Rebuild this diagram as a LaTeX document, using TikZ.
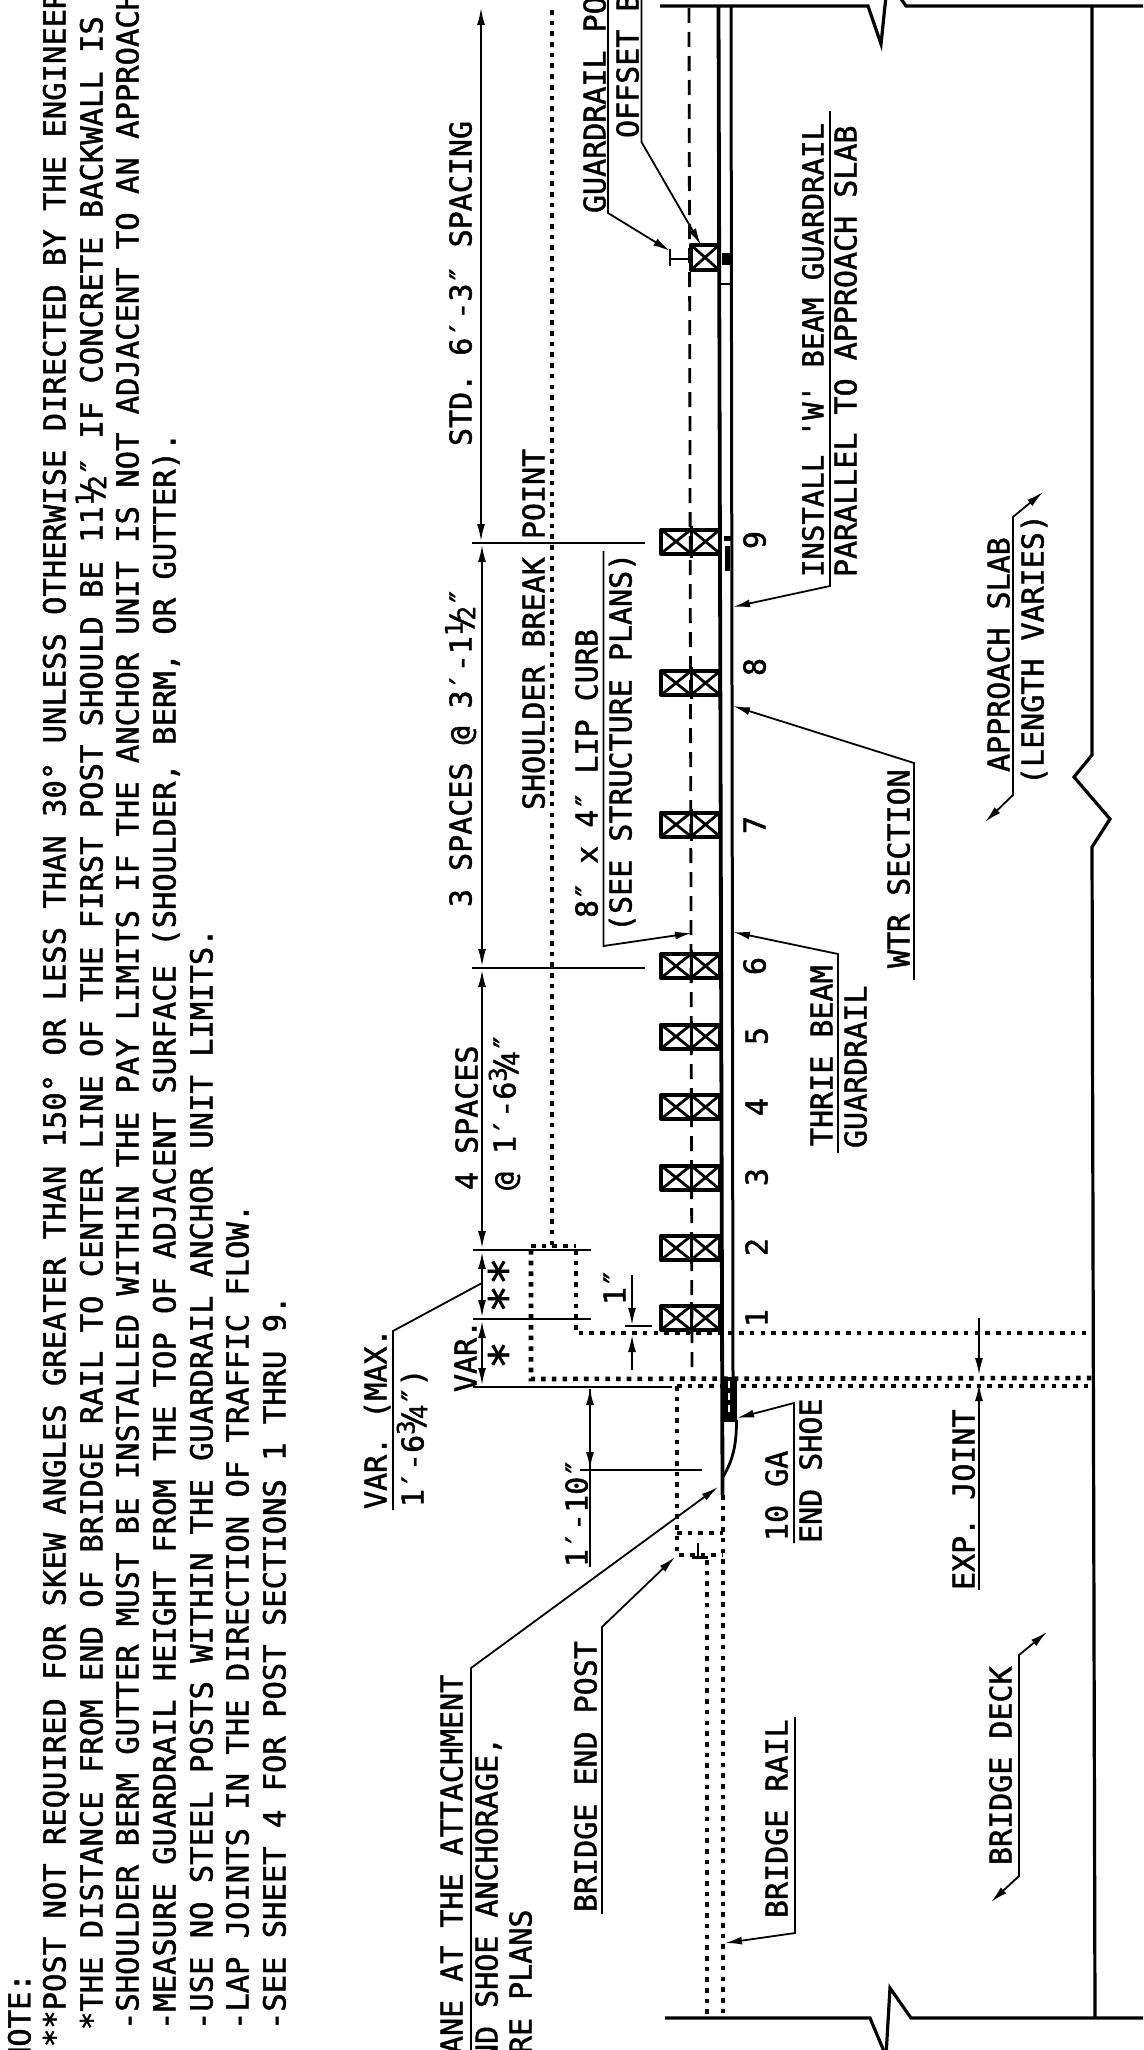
\documentclass[tikz,border=0pt]{standalone}
\usepackage{fontspec}
\usepackage{graphicx}
\usetikzlibrary{arrows.meta}
\newfontfamily\drafting{DejaVu Sans Mono}[FakeBold=1.5]
\newcommand\frc[2]{\raisebox{.3em}{\scalebox{.8}{#1}}\kern-.28em\scalebox{1}{/}\kern-.28em\raisebox{-.12em}{\scalebox{.8}{#2}}}
\tikzset{
  lbl/.style={rotate=90,anchor=west,inner sep=0pt,outer sep=0pt,text height=21pt,text depth=0pt,font=\drafting\fontsize{30}{30}\selectfont},
  nt/.style={lbl,font=\drafting\fontsize{30.5}{30}\selectfont},
  stars/.style={rotate=90,anchor=center,inner sep=0pt,font=\drafting\fontsize{46}{46}\selectfont},
  dim/.style={line width=1.8pt},
  leader/.style={line width=1.8pt},
  arr/.style={-{Latex[length=17pt,width=8pt]},line width=1.8pt},
  arrb/.style={{Latex[length=17pt,width=8pt]}-{Latex[length=17pt,width=8pt]},line width=1.8pt},
  thick line/.style={line width=3.2pt},
  dots/.style={line width=4.6pt,dash pattern=on 4.6pt off 6.1pt},
  cl/.style={line width=2.8pt,dash pattern=on 15pt off 9pt},
}
\newcommand\postbox[1]{%
  \draw[line width=4pt,line join=round] (661,#1-12) rectangle (720,#1+12);
  \draw[line width=2.8pt] (661,#1-12)--(691,#1+12) (661,#1+12)--(691,#1-12)
     (691,#1-12)--(720,#1+12) (691,#1+12)--(720,#1-12);
  \draw[line width=3pt] (691,#1-16)--(691,#1+16);
}
\begin{document}
\begin{tikzpicture}[x=1pt,y=-1pt]
\useasboundingbox (0,0) rectangle (1143,2050);
\clip (0,0) rectangle (1143,2050);
\fill[white] (0,0) rectangle (1143,2050);

% notes
\node[nt] (note0) at (20,2065) {NOTE:};
\node[nt] (note1) at (55,2047) {**POST NOT REQUIRED FOR SKEW ANGLES GREATER THAN 150° OR LESS THAN 30° UNLESS OTHERWISE DIRECTED BY THE ENGINEER};
\node[nt] (note2) at (92,2030) {*THE DISTANCE FROM END OF BRIDGE RAIL TO CENTER LINE OF THE FIRST POST SHOULD BE 11\frc{1}{2}″ IF CONCRETE BACKWALL IS};
\node[nt] (note3) at (128,2030) {-SHOULDER BERM GUTTER MUST BE INSTALLED WITHIN THE PAY LIMITS IF THE ANCHOR UNIT IS NOT ADJACENT TO AN APPROACH};
\node[nt] (note4) at (165,2030) {-MEASURE GUARDRAIL HEIGHT FROM THE TOP OF ADJACENT SURFACE (SHOULDER, BERM, OR GUTTER).};
\node[nt] (note5) at (202,2030) {-USE NO STEEL POSTS WITHIN THE GUARDRAIL ANCHOR UNIT LIMITS.};
\node[nt] (note6) at (238,2030) {-LAP JOINTS IN THE DIRECTION OF TRAFFIC FLOW.};
\node[nt] (note7) at (275,2030) {-SEE SHEET 4 FOR POST SECTIONS 1 THRU 9.};

% deck outline
\draw[thick line,line join=miter] (660,6)--(868,6)--(881,44)--(886,-4);
\draw[thick line] (899,-4)--(906,6)--(1143,6);
\draw[thick line] (665,2018)--(870,2018)--(886,2056);
\draw[thick line] (886,2056)--(890,1988)--(911,2018)--(1143,2018);
\draw[thick line] (1092,6)--(1092,755)--(1074,777)--(1110,819)--(1092,847)--(1095,2018);

% dotted lines
\draw[dots] (552,10)--(552,1246);
\draw[dots] (531,1246)--(576,1246);
\draw[dots] (531,1250)--(531,1379)--(1092,1378);
\draw[dots] (576,1250)--(576,1333)--(1092,1333);
\draw[dots] (677,1386)--(1092,1386);
\draw[dots] (677,1386)--(677,1555)--(723,1555);
\draw[dots] (677,1533)--(723,1533);
\draw[dots] (723,1495)--(723,2018);
\draw[dots] (707,1560)--(707,2018);
\draw[line width=2.6pt] (698,1543)--(698,1558);
\draw[line width=3pt] (692,1557)--(708,1557);

% centre line and rails
\draw[cl] (689,8)--(692,1380);
\draw[line width=3.8pt] (718.5,6)--(722.5,1495);
\draw[line width=3pt] (731,6)--(733,1378);

% posts
\foreach \p in {1318,1248,1177.5,1107,1036.5,966,824.5,683,541.5}{\postbox{\p}}
\draw[line width=4pt,line join=round] (691,245) rectangle (719,270);
\draw[line width=2.8pt] (691,245)--(719,270) (691,270)--(719,245);
\draw[line width=2.2pt] (670,259)--(691,259) (670,249)--(670,266);
\fill (722,253) rectangle (730,265);
\draw[line width=2.6pt] (719,284)--(731,284);
\fill (724,536) rectangle (731,541);
\fill (724.5,546) rectangle (730,571);

% end shoe
\fill (720.5,1377) rectangle (737,1422);
\draw[white,line width=1.4pt,dash pattern=on 7pt off 5pt] (729,1381)--(729,1414);
\draw[line width=2.8pt] (736.5,1420) .. controls (736.5,1445) and (733,1460) .. (723,1477);

% dimension line
\draw[arrb] (481,8)--(481,541);
\draw[arrb] (482,545)--(482,966);
\draw[arrb] (482,970)--(482,1248);
\draw[arrb] (482,1252)--(482,1317);
\draw[arrb] (482,1321)--(482,1385);
\draw[dim] (472,543)--(645,543) (472,968)--(645,968) (473,1250)--(591,1250) (473,1319)--(591,1319);
\draw[line width=2.4pt] (473,1387)--(672,1387);

% labels on the dimension line
\node[lbl] (std) at (461,446) {STD. 6′-3″ SPACING};
\node[lbl] (three) at (461,907) {3 SPACES @ 3′-1\frc{1}{2}″};
\node[lbl] (four) at (467,1190) {4 SPACES};
\node[lbl] (at) at (505,1190) {@ 1′-6\frc{3}{4}″};
\node[lbl] (var) at (466,1392) {VAR.};
\node[stars] (s2) at (505,1285) {**};
\node[stars] (s1) at (505,1355) {*};

% VAR (MAX
\node[lbl] (vmax) at (376,1509) {VAR. (MAX.};
\node[lbl] (v16) at (413,1507) {1′-6\frc{3}{4}″)};
\draw[leader] (393,1510)--(393,1331)--(482,1283);

% 1 inch
\node[lbl] (one) at (615,1305) {1″};
\draw[dim,-{Latex[length=17pt,width=8pt]}] (632,1275)--(632,1325);
\draw[dim,-{Latex[length=17pt,width=8pt]}] (632,1370)--(632,1335);
\draw[dim] (625,1326)--(652,1326);

% 1'-10
\node[lbl] (oneten) at (577,1567) {1′-10″};
\draw[dim] (590,1567)--(590,1389);
\draw[arr] (590,1420)--(590,1388);
\draw[arr] (590,1420)--(590,1469);
\draw[dim] (580,1470)--(702,1470);

% bridge end post
\node[lbl] (bep) at (586,1912) {BRIDGE END POST};
\draw[arr] (602,1914)--(602,1627)--(675,1557);
% plane label
\node[lbl] (pl1) at (452,2054) {ANE AT THE ATTACHMENT};
\node[lbl] (pl2) at (487,2062) {ND SHOE ANCHORAGE,};
\node[lbl] (pl3) at (521,2054) {RE PLANS};
\draw[arr] (471,2052)--(471,1668)--(718,1487);
% bridge rail
\node[lbl] (br) at (777,1918) {BRIDGE RAIL};
\draw[arr] (795,1717)--(795,1933)--(725,1943);
% bridge deck
\node[lbl] (bd) at (1001,1865) {BRIDGE DECK};
\draw[arrb] (991,1902)--(1019,1876)--(1019,1655)--(1047,1632);
% exp joint
\node[lbl] (exp) at (964,1590) {EXP. JOINT};
\draw[arr] (979,1590)--(979,1384);
\draw[arr] (979,1318)--(979,1375);
% 10 GA
\node[lbl] (ga) at (777,1541) {10 GA};
\node[lbl] (shoe) at (811,1543) {END SHOE};
\draw[arr] (794,1543)--(794,1403)--(737,1418);
% numbers
\foreach \n/\y/\xx in {1/1318/757,2/1247/757,3/1177/757,4/1107/757,5/1036/757,6/966/755,7/825/755,8/667/755,9/540/755}
  {\node[lbl,anchor=center] (n\n) at (\xx,\y) {\n};}
% thrie beam
\node[lbl] (tb1) at (822,1146) {THRIE BEAM};
\node[lbl] (tb2) at (856,1148) {GUARDRAIL};
\draw[arr] (838,1153)--(838,954)--(733,932);
% wtr
\node[lbl] (wtr) at (899,968) {WTR SECTION};
\draw[arr] (914,980)--(914,763)--(733,706);
% lip curb
\node[lbl] (lc1) at (587,918) {8″ x 4″ LIP CURB};
\node[lbl] (lc2) at (621,932) {(SEE STRUCTURE PLANS)};
\draw[arr] (603.5,551)--(603.5,946)--(692,933);
% shoulder break
\node[lbl] (sbp) at (534,810) {SHOULDER BREAK POINT};
% install
\node[lbl,font=\drafting\fontsize{29}{30}\selectfont] (in1) at (813,577) {INSTALL 'W' BEAM GUARDRAIL};
\node[lbl] (in2) at (846,577) {PARALLEL TO APPROACH SLAB};
\draw[arr] (830,111)--(830,586)--(733,607);
% approach slab
\node[lbl] (as1) at (999,772) {APPROACH SLAB};
\node[lbl] (as2) at (1033,785) {(LENGTH VARIES)};
\draw[arrb] (985,822)--(1013,795)--(1013,517)--(1043,492);
% guardrail post offset
\node[lbl] (gp) at (595,213) {GUARDRAIL PO};
\node[lbl] (ob) at (628,138) {OFFSET B};
\draw[arr] (608,-2)--(608,213)--(670,251);
\draw[arr] (641.5,-2)--(641.5,142)--(701,245);
\end{tikzpicture}
\end{document}
